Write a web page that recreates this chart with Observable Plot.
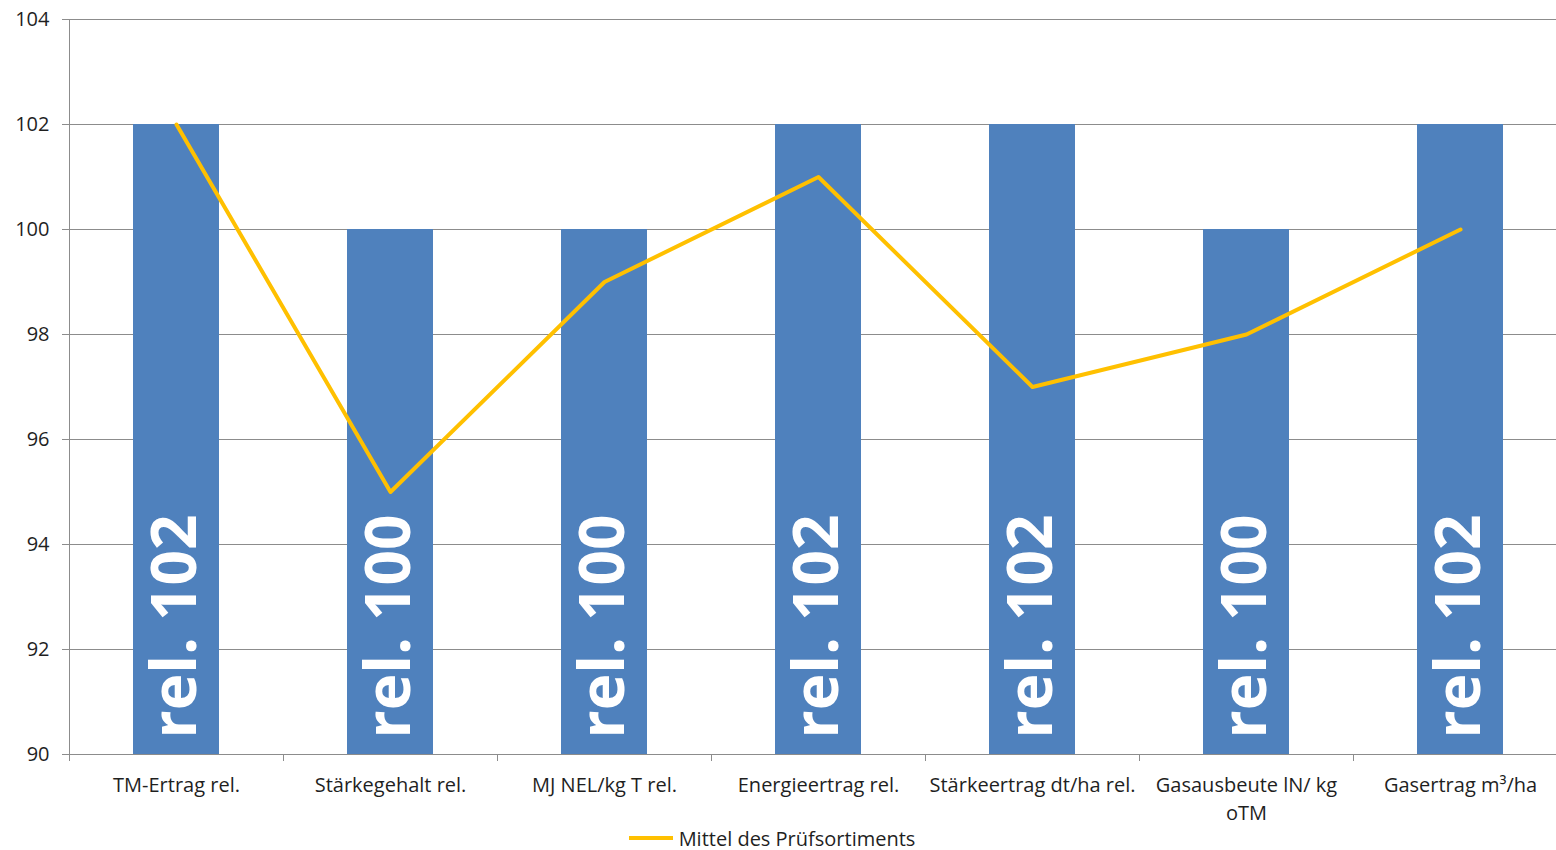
<!DOCTYPE html>
<html>
<head>
<meta charset="utf-8">
<script src="https://cdn.jsdelivr.net/npm/d3@7"></script>
<script src="https://cdn.jsdelivr.net/npm/@observablehq/plot@0.6"></script>
<style>
  body { margin: 0; background: #fff; font-family: "Open Sans", sans-serif; }
  #legend { display: flex; justify-content: center; align-items: center; height: 20px; font-size: 20px; color: #1f1f1f; padding-right: 16px; }
  #legend .swatch { width: 44px; height: 4px; background: #FFC000; margin-right: 6px; margin-left: 4px; }
</style>
</head>
<body>
<div id="chart"></div>
<div id="legend"><span class="swatch"></span><span>Mittel des Prüfsortiments</span></div>
<script>
const categories = ["TM-Ertrag rel.", "Stärkegehalt rel.", "MJ NEL/kg T rel.", "Energieertrag rel.", "Stärkeertrag dt/ha rel.", "Gasausbeute lN/ kg oTM", "Gasertrag m³/ha"];
const tickLabels = ["TM-Ertrag rel.", "Stärkegehalt rel.", "MJ NEL/kg T rel.", "Energieertrag rel.", "Stärkeertrag dt/ha rel.", "Gasausbeute lN/ kg\noTM", "Gasertrag m³/ha"];
const sortValues = [102, 100, 100, 102, 102, 100, 102];
const meanValues = [102, 95, 99, 101, 97, 98, 100];
const yTicks = [90, 92, 94, 96, 98, 100, 102, 104];
const seriesName = "Mittel des Prüfsortiments";

const data = categories.map((c, i) => ({cat: c, label: tickLabels[i], sort: sortValues[i], mean: meanValues[i]}));

const W = 1556, H = 828, ML = 69, MR = -11, MT = 19, MB = 74;
const bw = (W - ML - MR) / categories.length;
const gray = "#8c8c8c";
const textColor = "#1f1f1f";

const chart = Plot.plot({
  width: W, height: H,
  marginLeft: ML, marginRight: MR, marginTop: MT, marginBottom: MB,
  style: {fontFamily: "'Open Sans', sans-serif", background: "#fff"},
  x: {domain: categories, paddingInner: 0.6, paddingOuter: 0.3, align: 0.5, axis: null},
  y: {domain: [90, 104], ticks: yTicks, axis: null},
  marks: [
    Plot.gridY(yTicks, {stroke: gray, strokeOpacity: 1, strokeWidth: 1}),
    Plot.frame({anchor: "left", stroke: gray}),
    Plot.frame({anchor: "bottom", stroke: gray}),
    Plot.axisY(yTicks, {tickSize: 7, tickPadding: 13, fontSize: 20, fill: textColor, stroke: gray, tickFormat: d => d}),
    Plot.ruleX(data, {x: "cat", dx: -bw / 2, y1: 90, y2: 90, insetBottom: -7, stroke: gray}),
    Plot.barY(data, {x: "cat", y1: 90, y2: "sort", fill: "#4F81BD"}),
    Plot.text(data, {x: "cat", y: () => 90, text: d => `rel. ${d.sort}`, rotate: -90, textAnchor: "start", lineAnchor: "middle", dy: -16, fill: "#fff", fontSize: 62, fontWeight: "bold"}),
    Plot.line(data, {x: "cat", y: "mean", stroke: "#FFC000", strokeWidth: 4}),
    Plot.text(data, {x: "cat", y: () => 90, text: "label", lineAnchor: "top", dy: 18, lineHeight: 1.4, fontSize: 20, fill: textColor})
  ]
});
document.getElementById("chart").appendChild(chart);
</script>
</body>
</html>
